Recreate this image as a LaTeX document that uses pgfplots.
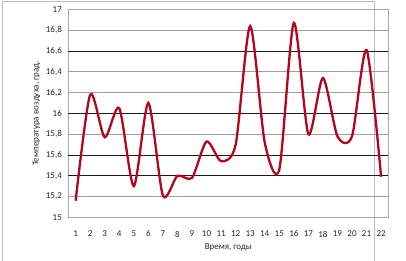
\documentclass[border=0pt]{standalone}
\usepackage{pgfplots}
\pgfplotsset{compat=1.18}
\usepackage{fontspec}
\setmainfont{Carlito}
\definecolor{linered}{RGB}{180,5,30}
\begin{document}
\begin{tikzpicture}[x=1pt,y=1pt]
\useasboundingbox (0,0) rectangle (406,260);
\draw[gray!55, line width=0.8pt] (2,-2) -- (2,259) -- (374,259) -- (374,-2);
\begin{axis}[at={(47,41)}, anchor=south west, scale only axis,
  width=320pt, height=208pt,
  xmin=0.5, xmax=22.5, ymin=15, ymax=17,
  xtick={1,...,22},
  ytick={15,15.2,15.4,15.6,15.8,16,16.2,16.4,16.6,16.8,17},
  major tick length=0pt,
  ymajorgrids=true,
  grid style={gray!75, line width=0.6pt},
  extra y ticks={15.4,15.6,16,16.6},
  extra y tick labels={},
  extra y tick style={grid style={black!90, line width=0.8pt}},
  axis line style={gray!70, line width=0.6pt},
  /pgf/number format/assume math mode=true,
  /pgf/number format/use comma,
  /pgf/number format/fixed,
  /pgf/number format/precision=1,
  tick label style={font=\fontsize{9}{10}\selectfont, text=black!85},
  xticklabel style={yshift=-10pt},
  yticklabel style={xshift=-3pt},
  xlabel={Время, годы},
  ylabel={Температура воздуха, град.},
  label style={font=\fontsize{9}{10}\selectfont, text=black!85},
  xlabel style={at={(axis description cs:0.5,-0.144)}, anchor=center},
  ylabel style={at={(axis description cs:-0.1,0.5)}, anchor=center},
  clip=false,
]
\addplot[smooth, tension=0.45, color=linered, line width=2.3pt] coordinates {
(1,15.16) (2,16.18) (3,15.77) (4,16.05) (5,15.30) (6,16.10) (7,15.21)
(8,15.40) (9,15.38) (10,15.73) (11,15.54) (12,15.70) (13,16.84) (14,15.72)
(15,15.46) (16,16.87) (17,15.80) (18,16.34) (19,15.78) (20,15.78) (21,16.61) (22,15.39)
};
\end{axis}
\end{tikzpicture}
\end{document}
